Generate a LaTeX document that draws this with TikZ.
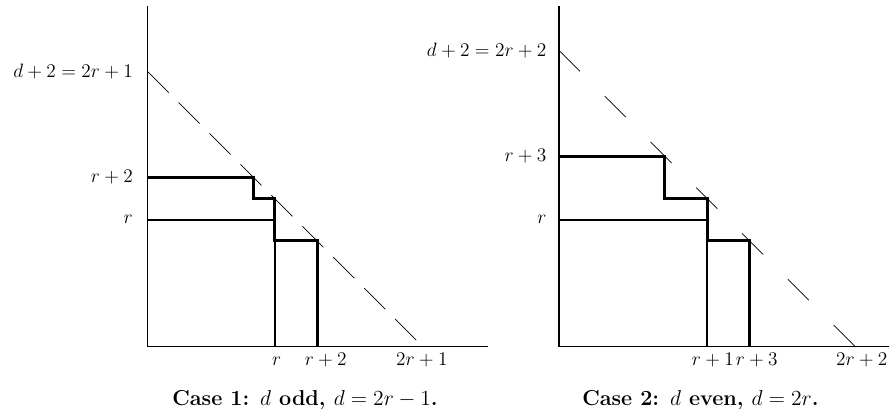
\RequirePackage{fix-cm}
\documentclass[tikz,border=0pt]{standalone}
\usetikzlibrary{calc}
\tikzset{axis/.style={line width=0.9pt},
  stair/.style={line width=2pt, line join=miter},
  sq/.style={line width=1.35pt},
  diag/.style={line width=0.45pt, dash pattern=on 20pt off #1},
  lbl/.style={font=\fontsize{13}{15}\selectfont, inner sep=0pt},
  capt/.style={font=\fontsize{14.5}{17}\selectfont\bfseries, anchor=base, inner sep=0pt}}

\begin{document}
\begin{tikzpicture}[x=5mm,y=5mm]
  \useasboundingbox (-6.977,-3.32) rectangle (35.02,16.38);
  % case 1: d odd
  \begin{scope}
    \coordinate (o1) at (0,0);
    \draw[axis] (0,16.09) -- (o1) -- (16.07,0);
    \draw[diag=9.4pt] (0,13) -- (13,0);
    \draw[sq] (0,6) -| (6,0);
    \draw[stair] (0,8) -| (5,7) -| (6,5) -| (8,0);
    % y labels
    \node[lbl, anchor=east] (dl1) at (-0.69,13) {$d+2=2r+1$};
    \node[lbl, anchor=east] (rtwo1) at (-0.69,8) {$r+2$};
    \node[lbl, anchor=east] (ry1) at (-0.69,6) {$r$};
    % x labels
    \node[lbl, anchor=base] (rx1) at (6.09,-0.91) {$r$};
    \node[lbl, anchor=base] (rtwox1) at (8.41,-0.91) {$r+2$};
    \node[lbl, anchor=base] (dx1) at (12.95,-0.91) {$2r+1$};
    \node[capt] (case1) at (7.43,-2.79) {Case 1: $d$ odd, $d=2r-1$.};
  \end{scope}
  % case 2: d even
  \begin{scope}[shift={(19.43,0)}]
    \coordinate (o2) at (0,0);
    \draw[axis] (0,16.09) -- (o2) -- (15.59,0);
    \draw[diag=23.5pt] (0,14) -- (14,0);
    \draw[sq] (0,6) -| (7,0);
    \draw[stair] (0,9) -| (5,7) -| (7,5) -| (9,0);
    % y labels
    \node[lbl, anchor=east] (dl2) at (-0.58,14) {$d+2=2r+2$};
    \node[lbl, anchor=east] (rthree2) at (-0.58,9) {$r+3$};
    \node[lbl, anchor=east] (ry2) at (-0.58,6) {$r$};
    % x labels
    \node[lbl, anchor=base] (rone2) at (7.27,-0.91) {$r+1$};
    \node[lbl, anchor=base] (rthreex2) at (9.34,-0.91) {$r+3$};
    \node[lbl, anchor=base] (dx2) at (14.30,-0.91) {$2r+2$};
    \node[capt] (case2) at (6.68,-2.79) {Case 2: $d$ even, $d=2r$.};
  \end{scope}
\end{tikzpicture}
\end{document}
